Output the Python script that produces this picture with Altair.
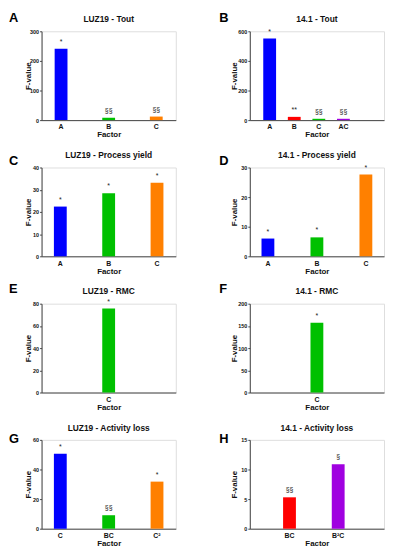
import altair as alt
import pandas as pd

FONT = "Liberation Sans"
BLUE, GREEN, ORANGE, RED, PURPLE = "#0000ff", "#00c000", "#ff8000", "#ff0000", "#a000e0"

letters = ["A", "B", "C", "D", "E", "F", "G", "H"]
titles = ["LUZ19 - Tout", "14.1 - Tout", "LUZ19 - Process yield", "14.1 - Process yield",
          "LUZ19 - RMC", "14.1 - RMC", "LUZ19 - Activity loss", "14.1 - Activity loss"]

factors_A = ["A", "B", "C"]
values_A = [241, 8, 12]
sig_A = ["*", "§§", "§§"]
colors_A = [BLUE, GREEN, ORANGE]
ticks_A = [0, 100, 200, 300]

factors_B = ["A", "B", "C", "AC"]
values_B = [551, 22, 9, 9]
sig_B = ["*", "**", "§§", "§§"]
colors_B = [BLUE, RED, GREEN, PURPLE]
ticks_B = [0, 200, 400, 600]

factors_C = ["A", "B", "C"]
values_C = [22.4, 28.4, 33.1]
sig_C = ["*", "*", "*"]
colors_C = [BLUE, GREEN, ORANGE]
ticks_C = [0, 10, 20, 30, 40]

factors_D = ["A", "B", "C"]
values_D = [6.0, 6.4, 27.6]
sig_D = ["*", "*", "*"]
colors_D = [BLUE, GREEN, ORANGE]
ticks_D = [0, 10, 20, 30]

factors_E = ["C"]
values_E = [75.6]
sig_E = ["*"]
colors_E = [GREEN]
ticks_E = [0, 20, 40, 60, 80]

factors_F = ["C"]
values_F = [157]
sig_F = ["*"]
colors_F = [GREEN]
ticks_F = [0, 50, 100, 150, 200]

factors_G = ["C", "BC", "C²"]
values_G = [50.7, 9.1, 31.8]
sig_G = ["*", "§§", "*"]
colors_G = [BLUE, GREEN, ORANGE]
ticks_G = [0, 20, 40, 60]

factors_H = ["BC", "B²C"]
values_H = [5.3, 10.9]
sig_H = ["§§", "§"]
colors_H = [RED, PURPLE]
ticks_H = [0, 5, 10, 15]

W, H = 136, 90

# band layout per panel: paddingInner, paddingOuter, align
layouts = {
    "A": (0.5, 0.16, 0.5), "B": (0.5, 0.98, 0.285), "C": (0.5, 0.138, 0.5), "D": (0.5, 0.12, 0.5),
    "E": (0.5, 1.0, 0.5), "F": (0.5, 1.0, 0.5), "G": (0.5, 0.138, 0.5), "H": (0.5, 0.628, 0.45),
}
# vertical position (pixels above the plot top) of letter and title text centres
letter_dy = [-13.5, -13.5, -6.5, -6.5, -14.5, -14.5, -1, -1]
letter_dx = [-33, -31]
title_dy = -12.5

data = {
    "A": (factors_A, values_A, sig_A, colors_A, ticks_A),
    "B": (factors_B, values_B, sig_B, colors_B, ticks_B),
    "C": (factors_C, values_C, sig_C, colors_C, ticks_C),
    "D": (factors_D, values_D, sig_D, colors_D, ticks_D),
    "E": (factors_E, values_E, sig_E, colors_E, ticks_E),
    "F": (factors_F, values_F, sig_F, colors_F, ticks_F),
    "G": (factors_G, values_G, sig_G, colors_G, ticks_G),
    "H": (factors_H, values_H, sig_H, colors_H, ticks_H),
}


def panel(i):
    key = letters[i]
    factors, values, sig, colors, ticks = data[key]
    pi, po, al = layouts[key]
    col = i % 2
    df = pd.DataFrame({"factor": factors, "value": values, "sig": sig, "color": colors})
    x = alt.X("factor:N", sort=factors, title="Factor",
              scale=alt.Scale(paddingInner=pi, paddingOuter=po, align=al),
              axis=alt.Axis(labelAngle=0, ticks=False, labelPadding=3, labelFontSize=7,
                            labelFont=FONT, labelFontWeight="bold", labelColor="#111",
                            titleFontSize=8, titleFont=FONT, titleFontWeight="bold",
                            titlePadding=1, titleColor="#111", domainColor="#444"))
    y = alt.Y("value:Q", title="F-value",
              scale=alt.Scale(domain=[ticks[0], ticks[-1]], nice=False, zero=True),
              axis=alt.Axis(values=ticks, grid=False, tickSize=2, labelPadding=1, labelFontSize=5.5,
                            labelFont=FONT, labelFontWeight="bold", labelColor="#111",
                            tickColor="#444", domainColor="#444",
                            titleFontSize=8, titleFont=FONT, titleFontWeight="bold", titleColor="#111",
                            titleX=-9 if col == 0 else -11, titleY=H / 2))
    bars = alt.Chart(df).mark_bar(size=13).encode(
        x=x, y=y, color=alt.Color("color:N", scale=None))
    sigs = alt.Chart(df).mark_text(dy=-5, baseline="alphabetic", fontSize=7, font=FONT,
                                   color="#222").encode(x=x, y=y, text="sig:N")
    lab = alt.Chart(pd.DataFrame({"t": [key]})).mark_text(
        align="left", baseline="middle", fontSize=13, fontWeight="bold", font=FONT, color="#000"
    ).encode(x=alt.value(letter_dx[col]), y=alt.value(letter_dy[i]), text="t:N")
    ttl = alt.Chart(pd.DataFrame({"t": [titles[i]]})).mark_text(
        align="center", baseline="middle", fontSize=8.5, fontWeight="bold", font=FONT, color="#111"
    ).encode(x=alt.value(W / 2), y=alt.value(title_dy), text="t:N")
    return alt.layer(bars, sigs, lab, ttl).properties(width=W, height=H)


panels = [panel(i) for i in range(8)]
chart = alt.concat(*panels, columns=2, spacing={"row": 48, "column": 75}, bounds="flush").properties(
    padding=0
).configure_view(stroke=None).configure(background="white")

chart.save("out.html", embed_options={"renderer": "svg", "actions": False})
